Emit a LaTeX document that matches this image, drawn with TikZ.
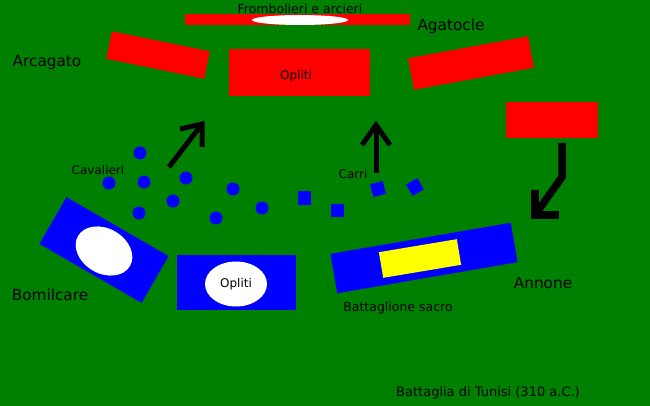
\documentclass[tikz,border=0pt]{standalone}
\usepackage{fontspec}
\setmainfont{DejaVu Sans}
\definecolor{bg}{RGB}{0,128,0}
\definecolor{rd}{RGB}{255,0,0}
\definecolor{bl}{RGB}{0,0,255}
\definecolor{yl}{RGB}{255,255,0}
\usetikzlibrary{shapes.geometric}
\begin{document}
\begin{tikzpicture}[x=1pt,y=-1pt,
  redbox/.style={fill=rd,draw=none,inner sep=0pt,outer sep=0pt},
  bluebox/.style={fill=bl,draw=none,inner sep=0pt,outer sep=0pt},
  whiteell/.style={ellipse,fill=white,draw=none,inner sep=0pt,outer sep=0pt},
  dot/.style={circle,fill=bl,draw=none,minimum size=13pt,inner sep=0pt},
  sq/.style={rectangle,fill=bl,draw=none,minimum size=13pt,inner sep=0pt},
  lbl/.style={text=black,inner sep=0pt,font=\fontsize{12}{14}\selectfont},
  midlbl/.style={text=black,inner sep=0pt,font=\fontsize{12.5}{15}\selectfont},
  biglbl/.style={text=black,inner sep=0pt,font=\fontsize{15.3}{18}\selectfont},
  arr/.style={draw=black,line width=5pt,line join=miter,line cap=butt},
  bigarr/.style={draw=black,line width=7.5pt,line join=miter,line cap=butt}]
\fill[bg] (0,0) rectangle (650,406);
\useasboundingbox (0,0) rectangle (650,406);
% top bar
\node[redbox,minimum width=225pt,minimum height=11pt] (bar) at (297.5,19.5) {};
\node[whiteell,minimum width=96pt,minimum height=10pt] (barell) at (300,20) {};
\node[midlbl] (fromb) at (300,9) {Frombolieri e arcieri};
\node[biglbl] (agat) at (451,26) {Agatocle};
\node[biglbl] (arca) at (47,63) {Arcagato};
% red units
\node[redbox,minimum width=100pt,minimum height=28pt,rotate=-11.5] (rl) at (158,55) {};
\node[redbox,minimum width=141pt,minimum height=47pt] (rc) at (299.5,72.5) {};
\node[lbl] (oplr) at (296,76) {Opliti};
\node[redbox,minimum width=122pt,minimum height=32pt,rotate=10.4] (rr) at (471,63) {};
\node[redbox,minimum width=92pt,minimum height=36pt] (ann) at (552,120) {};
% arrows
\coordinate (c1s) at (169,167);
\coordinate (c1t) at (202,124);
\coordinate (c1a) at (180,129);
\coordinate (c1b) at (202,147);
\draw[arr] (c1s) -- (c1t);
\draw[arr] (c1a) -- (c1t) -- (c1b);
\coordinate (c2s) at (376,173);
\coordinate (c2t) at (376,125);
\coordinate (c2a) at (362,145);
\coordinate (c2b) at (390,145);
\draw[arr] (c2s) -- (c2t);
\draw[arr] (c2a) -- (c2t) -- (c2b);
\coordinate (c3s) at (562,143);
\coordinate (c3m) at (562,177);
\coordinate (c3t) at (535,215);
\coordinate (c3a) at (535,190);
\coordinate (c3b) at (559,215);
\draw[bigarr] (c3s) -- (c3m) -- (c3t);
\draw[bigarr] (c3a) -- (c3t) -- (c3b);
% cavalry
\node[lbl] (cav) at (98,170) {Cavalieri};
\node[dot] (d1) at (140,153) {};
\node[dot] (d2) at (109,183) {};
\node[dot] (d3) at (144,182) {};
\node[dot] (d4) at (186,178) {};
\node[dot] (d5) at (173,201) {};
\node[dot] (d6) at (139,213) {};
\node[dot] (d7) at (233,189) {};
\node[dot] (d8) at (216,218) {};
\node[dot] (d9) at (262,208) {};
% chariots
\node[sq] (s1) at (304,198) {};
\node[sq] (s2) at (337,210) {};
\node[sq,rotate=15] (s3) at (378,189) {};
\node[sq,rotate=30] (s4) at (415,187) {};
\node[lbl] (carri) at (353,174) {Carri};
% Bomilcare
\node[bluebox,minimum width=118pt,minimum height=54pt,rotate=-30] (bom) at (104,250) {};
\node[whiteell,minimum width=60pt,minimum height=45pt,rotate=-30] (bomell) at (104,251) {};
\node[biglbl] (boml) at (50,295) {Bomilcare};
% Opliti blue
\node[bluebox,minimum width=119pt,minimum height=55pt] (ob) at (236.5,282.5) {};
\node[whiteell,minimum width=62pt,minimum height=45pt] (obell) at (236,284) {};
\node[lbl] (oplb) at (obell) {Opliti};
% Sacred band
\node[bluebox,minimum width=183pt,minimum height=40pt,rotate=9.8] (sb) at (424,258) {};
\node[fill=yl,draw=none,inner sep=0pt,minimum width=79pt,minimum height=26pt,rotate=9.5] (sby) at (420,258.5) {};
\node[midlbl] (sbl) at (398,308) {Battaglione sacro};
\node[biglbl] (annl) at (543,283) {Annone};
\node[fill=none,text=black,inner sep=0pt,font=\fontsize{13}{15}\selectfont] (title) at (488,393) {Battaglia di Tunisi (310 a.C.)};
\end{tikzpicture}
\end{document}
